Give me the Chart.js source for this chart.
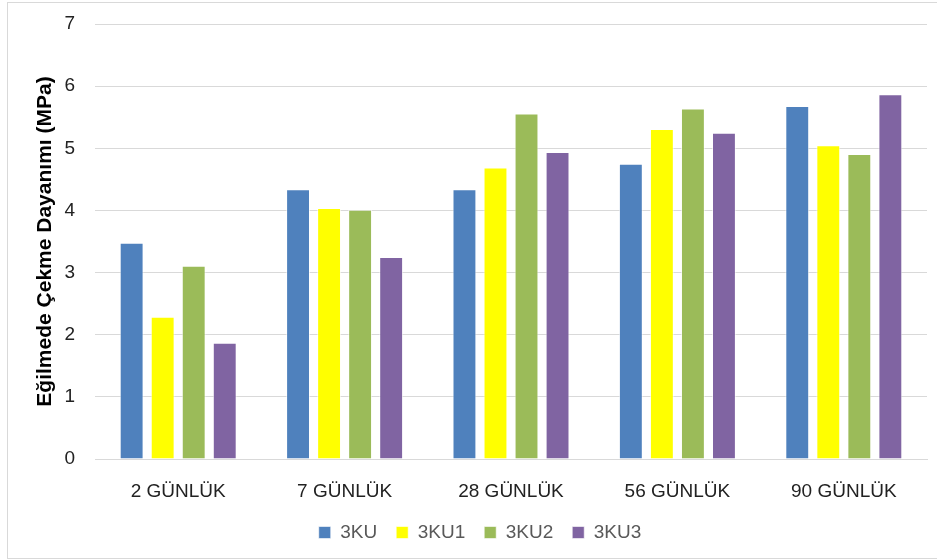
<!DOCTYPE html>
<html>
<head>
<meta charset="utf-8">
<script src="https://cdn.jsdelivr.net/npm/chart.js@4/dist/chart.umd.min.js"></script>
<style>
  html, body { margin: 0; padding: 0; background: #fff; }
  #wrap { position: relative; width: 937px; height: 560px; }
  #frame {
    position: absolute; left: 7px; top: 2px; width: 940px; height: 555px;
    border: 1px solid #d9d9d9; pointer-events: none;
  }
</style>
</head>
<body>
<div id="wrap">
  <canvas id="chart" width="937" height="560"></canvas>
  <div id="frame"></div>
</div>
<script>
// Data
const categories = ['2 GÜNLÜK', '7 GÜNLÜK', '28 GÜNLÜK', '56 GÜNLÜK', '90 GÜNLÜK'];
const seriesNames = ['3KU', '3KU1', '3KU2', '3KU3'];
const ku  = [3.48, 4.34, 4.34, 4.75, 5.68];
const ku1 = [2.29, 4.04, 4.69, 5.31, 5.05];
const ku2 = [3.11, 4.01, 5.56, 5.64, 4.91];
const ku3 = [1.87, 3.25, 4.94, 5.25, 5.87];
const yTicks = [0, 1, 2, 3, 4, 5, 6, 7];

// Colour palette
const colors = ['#4F81BD', '#FFFF00', '#9BBB59', '#8064A2'];

const font = "'Liberation Sans', Arial, sans-serif";
Chart.defaults.font.family = font;

const values = [ku, ku1, ku2, ku3];

new Chart(document.getElementById('chart'), {
  type: 'bar',
  data: {
    labels: categories,
    datasets: seriesNames.map((name, i) => ({
      label: name,
      data: values[i],
      backgroundColor: colors[i],
      borderColor: 'rgba(255,255,255,0.6)',
      borderWidth: 1,
      categoryPercentage: 0.746,
      barPercentage: 0.77
    }))
  },
  options: {
    responsive: false,
    animation: false,
    layout: { padding: { left: 33, right: 10, top: 24, bottom: 8 } },
    scales: {
      x: {
        grid: { display: false },
        border: { display: true, color: '#d9d9d9' },
        ticks: { color: '#222', font: { size: 19 }, padding: 13 },
        afterFit: scale => { scale.height = 45; }
      },
      y: {
        min: 0,
        max: 7,
        afterBuildTicks: scale => { scale.ticks = yTicks.map(v => ({ value: v })); },
        grid: { color: '#d9d9d9', drawTicks: false },
        border: { display: false },
        ticks: { color: '#222', font: { size: 19 }, padding: 20 },
        title: {
          display: true,
          text: 'Eğilmede Çekme Dayanımı (MPa)',
          color: '#000',
          font: { size: 21, weight: 'bold' },
          padding: { top: 0, bottom: 0 }
        },
        afterFit: scale => {
          scale.width = 62;
          scale.paddingTop = 0;
          scale.paddingBottom = 0;
        }
      }
    },
    plugins: {
      legend: {
        position: 'bottom',
        labels: {
          boxWidth: 12,
          boxHeight: 12,
          padding: 19,
          color: '#595959',
          font: { size: 19 }
        }
      },
      tooltip: { enabled: false }
    }
  }
});
</script>
</body>
</html>
